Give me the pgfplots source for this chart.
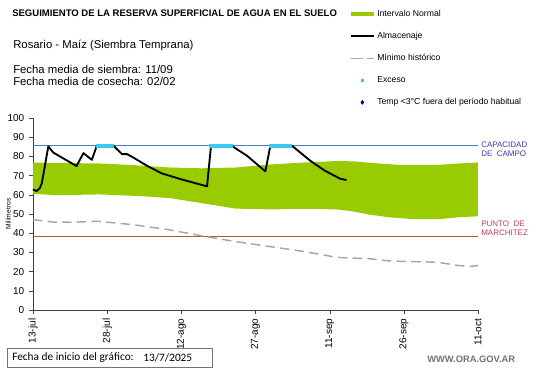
\documentclass[border=0pt]{standalone}
\usepackage{pgfplots}
\pgfplotsset{compat=1.18}
\usepackage{fontspec}
\setmainfont{Liberation Sans}
\newfontfamily\calibri{Carlito}
\definecolor{intervalo}{HTML}{99CC00}
\definecolor{exceso}{HTML}{3CC8F0}
\definecolor{tempc}{HTML}{000099}
\definecolor{ccline}{HTML}{4F7BC0}
\definecolor{pmline}{HTML}{B8504D}
\definecolor{cclabel}{HTML}{3A3AB0}
\definecolor{pmlabel}{HTML}{C0404D}
\definecolor{minhist}{HTML}{A6A6A6}
\begin{document}
\begin{tikzpicture}
\begin{axis}[
  at={(24.75pt,43.5pt)}, anchor=south west,
  scale only axis, width=333.75pt, height=144pt,
  xmin=0, xmax=90, ymin=0, ymax=100,
  axis lines=left, axis line style={-, black!75},
  tick align=outside, major tick length=3pt,
  tick style={black!75},
  xtick={0,15,30,45,60,75,90},
  xticklabels={13-jul,28-jul,12-ago,27-ago,11-sep,26-sep,11-oct},
  x tick label style={rotate=90, anchor=east, font=\fontsize{7.5}{8}\selectfont},
  ytick={0,10,...,100},
  y tick label style={font=\fontsize{7.5}{8}\selectfont},
  /pgf/number format/assume math mode=true,
  ylabel={Milímetros},
  ylabel style={at={(axis description cs:-0.056,0.5)}, anchor=center, font=\fontsize{5}{6}\selectfont},
  clip=false,
  legend style={at={(axis description cs:0.712,1.579)}, anchor=north west, draw=none, fill=none,
    font=\fontsize{6.5}{7}\selectfont, row sep=6.4pt, inner sep=0pt},
  legend cell align=left,
]
% reference lines
\addplot[ccline, line width=0.6pt, forget plot] coordinates {(0,85.5) (90,85.5)};
\addplot[pmline, line width=0.6pt, forget plot] coordinates {(0,38.5) (90,38.5)};
% normal interval (upper edge, then lower edge reversed)
\addplot[fill=intervalo, draw=none,
  legend image code/.code={\fill[intervalo] (0cm,-1.6pt) rectangle (0.6cm,1.6pt);}] coordinates {
(0,76.8) (5,76.6) (13.6,76.3) (20,75.5) (27.7,74.2) (34,73.8) (41,74.2) (48,75.8) (54.7,76.8) (61.5,77.6) (65,77.4) (70,76.3) (75,75.4) (81,75.4) (86,76.3) (90,76.8)
(90,48.8) (86,48.3) (82,47.3) (77,47.3) (72,48.3) (68,49.7) (65,51.2) (61.5,52.4) (54.7,52.7) (48,52.4) (41,52.8) (34.5,55.5) (27.7,58.3) (23.7,59) (20,59.5) (13.6,60.2) (5,59.8) (0,60.5)} -- cycle;
\addlegendentry{Intervalo Normal}
% storage
\addplot[black, line width=1.4pt, line join=round,
  legend image code/.code={\draw[black, line width=1.3pt] (0cm,0cm) -- (0.6cm,0cm);}] coordinates {
(0,62.8) (0.7,61.9) (1.4,63.5) (1.8,66.3) (2.4,75) (3.1,85.2) (4.1,82) (6.5,78.4) (8.8,75) (10.2,81.7) (11.9,78.2) (12.9,85.5) (16.3,85.5) (18,81.2) (19,81.2) (20.3,79.4) (23,75.2) (26,71.2) (29.8,68.2) (35.2,64.4) (36,85.5) (40.2,85.5) (43.3,80.3) (47,72.2) (48,85.5) (52.4,85.5) (56.1,77.7) (59,72.6) (62.1,68.4) (63.4,67.7)};
\addlegendentry{Almacenaje}
% historical minimum
\addplot[minhist, line width=1.1pt, dash pattern=on 7pt off 4pt,
  legend image code/.code={\draw[minhist, line width=1.1pt, dash pattern=on 9pt off 3pt] (0cm,0cm) -- (0.6cm,0cm);}] coordinates {
(0,47.1) (4,45.8) (8,45.7) (13,46.2) (20,44.5) (27,42) (34,38.7) (41,35.6) (48,33) (54.7,30.5) (58,29) (61.5,27.4) (65,27) (68,26.7) (72,25.6) (75,25.3) (80,25) (82,24.8) (86,23.2) (88.4,22.7) (90,23.2)};
\addlegendentry{Mínimo histórico}
% excess
\addplot[only marks, mark=square*, mark size=1pt, color=exceso] coordinates {
(13,85.5) (13.5,85.5) (14,85.5) (14.5,85.5) (15,85.5) (15.5,85.5) (16,85.5)
(36,85.5) (36.5,85.5) (37,85.5) (37.5,85.5) (38,85.5) (38.5,85.5) (39,85.5) (39.5,85.5) (40,85.5)
(48,85.5) (48.5,85.5) (49,85.5) (49.5,85.5) (50,85.5) (50.5,85.5) (51,85.5) (51.5,85.5) (52,85.5)};
\addlegendentry{Exceso}
\addlegendimage{only marks, mark=diamond*, mark size=1.5pt, color=tempc}
\addlegendentry{Temp <3°C fuera del período habitual}
\end{axis}
\begin{scope}[x=0.75pt, y=-0.75pt, shift={(0pt,276pt)}]
\node[anchor=base west, inner sep=0pt, font=\fontsize{7.15}{8}\selectfont\bfseries] at (12,16.4) {SEGUIMIENTO DE LA RESERVA SUPERFICIAL DE AGUA EN EL SUELO};
\node[anchor=base west, inner sep=0pt, font=\fontsize{8.5}{10}\selectfont] at (13,49) {Rosario - Maíz (Siembra Temprana)};
\node[anchor=base west, inner sep=0pt, font=\fontsize{8.5}{10}\selectfont] at (13,74) {Fecha media de siembra: 11/09};
\node[anchor=base west, inner sep=0pt, font=\fontsize{8.5}{10}\selectfont] at (13,86) {Fecha media de cosecha: 02/02};
\node[anchor=west, inner sep=0pt, text=cclabel, font=\fontsize{6}{7}\selectfont] at (481,145) {CAPACIDAD};
\node[anchor=west, inner sep=0pt, text=cclabel, font=\fontsize{6}{7}\selectfont] at (481,154) {DE\ \ CAMPO};
\node[anchor=west, inner sep=0pt, text=pmlabel, font=\fontsize{6}{7}\selectfont] at (481,224) {PUNTO\ \ DE};
\node[anchor=west, inner sep=0pt, text=pmlabel, font=\fontsize{6}{7}\selectfont] at (481,233) {MARCHITEZ};
\draw[black!55, line width=0.6pt] (7,348) rectangle (212,367);
\node[anchor=west, inner sep=0pt, font=\calibri\fontsize{8.5}{9}\selectfont] at (12,357.5) {Fecha de inicio del gráfico:};
\node[anchor=west, inner sep=0pt, font=\calibri\fontsize{8.5}{9}\selectfont] at (143,357.5) {13/7/2025};
\node[anchor=west, inner sep=0pt, text=black!55, font=\fontsize{7}{8}\selectfont\bfseries] at (427,359) {WWW.ORA.GOV.AR};
\end{scope}
\path[use as bounding box] (0,0) rectangle (405.75pt,276pt);
\end{tikzpicture}
\end{document}
